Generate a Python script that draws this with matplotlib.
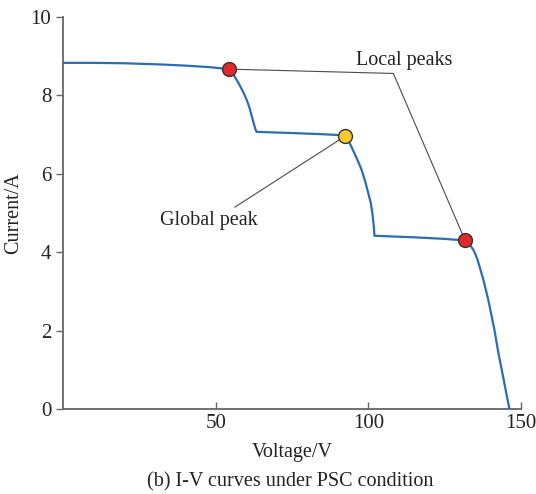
import matplotlib.pyplot as plt

plt.rcParams['font.family'] = ['Liberation Serif', 'DejaVu Serif']

# I-V curve under partial shading
voltage = [0, 10, 20, 31.8, 40, 48.1, 54.4,
           55.5, 56.7, 57.8, 59.0, 60.2, 61.1, 61.9, 62.6, 63.1, 63.4,
           75, 85, 90, 92.4,
           93.8, 95.0, 96.4, 97.8, 99.0, 100.0, 100.8, 101.4, 101.8, 102.0,
           115, 125, 131.7,
           132.6, 133.5, 134.4, 135.1, 135.8, 136.7, 137.7, 139.3, 141.3,
           142.6, 144.0, 145.2, 146.2]
current = [8.83, 8.83, 8.82, 8.79, 8.76, 8.72, 8.67,
           8.57, 8.42, 8.27, 8.09, 7.88, 7.68, 7.45, 7.25, 7.12, 7.07,
           7.04, 7.01, 6.99, 6.96,
           6.80, 6.60, 6.36, 6.10, 5.80, 5.50, 5.26, 4.95, 4.65, 4.42,
           4.38, 4.34, 4.30,
           4.24, 4.16, 4.06, 3.94, 3.80, 3.56, 3.29, 2.78, 2.02,
           1.43, 0.88, 0.40, 0.0]

local_peaks_v = [54.4, 131.7]
local_peaks_i = [8.67, 4.30]
global_peak_v = 92.4
global_peak_i = 6.96

fig = plt.figure(figsize=(5.36, 4.94), dpi=100)
ax = fig.add_axes([0.1175, 0.172, 0.8545, 0.7936])

ax.plot(voltage, current, color="#2b6cb3", linewidth=1.6, zorder=3)

# annotation leader lines
ax.plot([local_peaks_v[0], 108.2, local_peaks_v[1]],
        [local_peaks_i[0], 8.56, local_peaks_i[1]],
        color="#4a4a4a", linewidth=0.8, zorder=2)
ax.plot([56.3, global_peak_v], [5.15, global_peak_i],
        color="#4a4a4a", linewidth=0.8, zorder=2)

ax.plot(local_peaks_v, local_peaks_i, "o", markersize=10, markerfacecolor="#e02a2a",
        markeredgecolor="#333333", markeredgewidth=1.0, zorder=4)
ax.plot([global_peak_v], [global_peak_i], "o", markersize=10, markerfacecolor="#f7c92e",
        markeredgecolor="#333333", markeredgewidth=1.0, zorder=4)

ax.text(111.7, 8.9, "Local peaks", fontsize=14.5, ha="center", va="center", color="#222222")
ax.text(47.8, 4.82, "Global peak", fontsize=14.5, ha="center", va="center", color="#222222")

ax.set_xlim(0, 150)
ax.set_ylim(0, 10)
ax.set_xticks([50, 100, 150])
ax.set_yticks([0, 2, 4, 6, 8, 10])

for side in ["top", "right"]:
    ax.spines[side].set_visible(False)
for side in ["left", "bottom"]:
    ax.spines[side].set_color("#666666")
    ax.spines[side].set_linewidth(1.3)

ax.tick_params(axis="y", direction="out", length=5, width=1, color="#666666",
               labelsize=15, labelcolor="#222222")
ax.tick_params(axis="x", direction="in", length=5, width=1, color="#666666",
               labelsize=15, labelcolor="#222222")

ax.set_xlabel("Voltage/V", fontsize=14.5, color="#222222", labelpad=7)
ax.set_ylabel("Current/A", fontsize=14.5, color="#222222", labelpad=5)

fig.text(0.542, 0.024, "(b) I-V curves under PSC condition", fontsize=14.5,
         ha="center", va="center", color="#222222")

plt.savefig("out.png", dpi=100)
